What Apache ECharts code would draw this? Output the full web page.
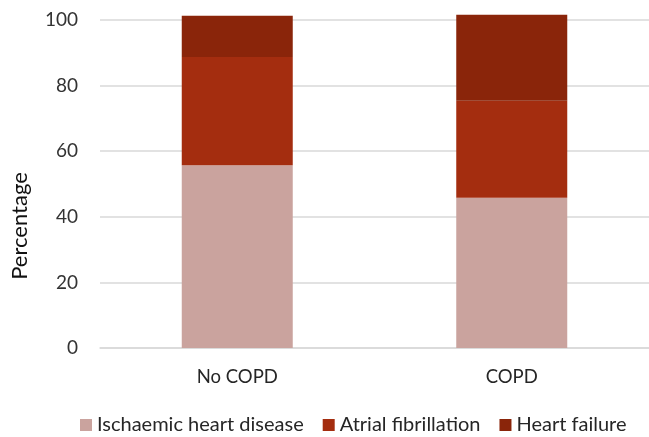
<!DOCTYPE html>
<html>
<head>
<meta charset="utf-8">
<script src="https://cdn.jsdelivr.net/npm/echarts@6/dist/echarts.min.js"></script>
<style>html,body{margin:0;padding:0;background:#fff}#c{width:649px;height:437px}</style>
</head>
<body>
<div id="c"></div>
<script>
var categories = ["No COPD", "COPD"];
var ischaemic = [55.7, 45.8];
var atrial = [33.0, 29.6];
var heartFailure = [12.6, 26.2];
var yTicks = [0, 20, 40, 60, 80, 100];

var font = "Lato";
var chart = echarts.init(document.getElementById('c'), null, {renderer: 'canvas'});
chart.setOption({
  animation: false,
  backgroundColor: '#ffffff',
  textStyle: {fontFamily: font},
  grid: {left: 100, right: -3, top: 20, bottom: 89},
  graphic: [{
    type: 'text', x: 20, y: 226, rotation: Math.PI / 2,
    style: {text: 'Percentage', fontFamily: font, fontSize: 22, fill: '#111', align: 'center', verticalAlign: 'middle'}
  }],
  legend: {
    bottom: -3, left: 75, itemWidth: 12, itemHeight: 12, itemGap: 19,
    icon: 'rect',
    textStyle: {fontFamily: font, fontSize: 20, color: '#262626'},
    data: ['Ischaemic heart disease', 'Atrial fibrillation', 'Heart failure']
  },
  xAxis: {
    type: 'category', data: categories,
    axisTick: {show: false},
    axisLine: {lineStyle: {color: '#d9d9d9', width: 1.5}},
    axisLabel: {fontFamily: font, fontSize: 18.5, color: '#262626', margin: 20}
  },
  yAxis: {
    type: 'value', min: yTicks[0], max: yTicks[yTicks.length - 1], interval: 20,
    axisLine: {show: false}, axisTick: {show: false},
    splitLine: {lineStyle: {color: '#d9d9d9', width: 1.5}},
    axisLabel: {fontFamily: font, fontSize: 19, color: '#333', margin: 22}
  },
  series: [
    {name: 'Ischaemic heart disease', type: 'bar', stack: 't', barWidth: 111, clip: false, data: ischaemic, itemStyle: {color: '#caa39e'}},
    {name: 'Atrial fibrillation', type: 'bar', stack: 't', barWidth: 111, clip: false, data: atrial, itemStyle: {color: '#a42d0f'}},
    {name: 'Heart failure', type: 'bar', stack: 't', barWidth: 111, clip: false, data: heartFailure, itemStyle: {color: '#8a250a'}}
  ]
});
</script>
</body>
</html>
